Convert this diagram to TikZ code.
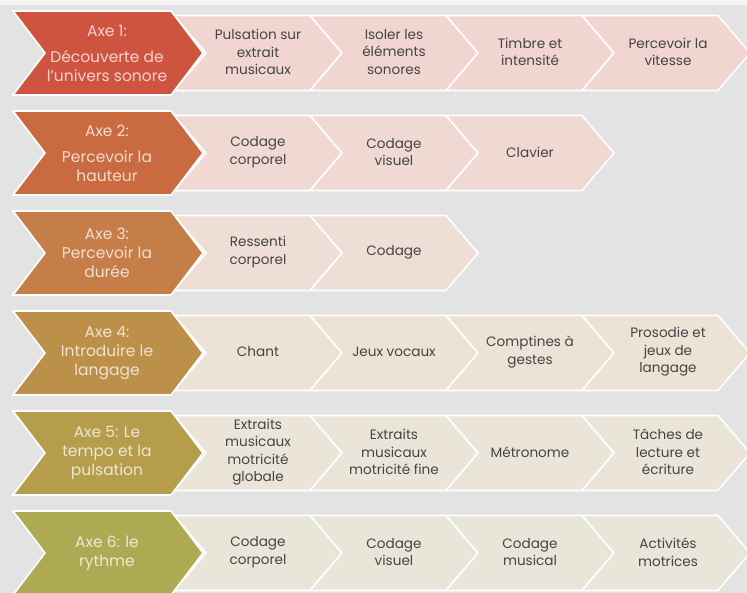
\documentclass[tikz,border=0pt]{standalone}
\usepackage{fontspec}
\setmainfont{Poppins}
\definecolor{bgtop}{HTML}{F4F4F4}
\definecolor{bg}{HTML}{E3E3E3}
\definecolor{mA}{HTML}{CF5440}
\definecolor{mB}{HTML}{CA6A40}
\definecolor{mC}{HTML}{C67E48}
\definecolor{mD}{HTML}{BC9048}
\definecolor{mE}{HTML}{B59D4C}
\definecolor{mF}{HTML}{ADAA53}
\definecolor{sA}{HTML}{F1D5D1}
\definecolor{sB}{HTML}{F0D9D3}
\definecolor{sC}{HTML}{EEDED6}
\definecolor{sD}{HTML}{ECE2D6}
\definecolor{sE}{HTML}{EBE5D9}
\definecolor{sF}{HTML}{E8E6D9}
\definecolor{tx}{HTML}{454545}
\tikzset{
  sectext/.style={align=center, text=tx, font=\fontsize{13.6}{17.5}\selectfont, inner sep=0pt},
  maintext/.style={align=center, font=\fontsize{15.5}{19}\selectfont, inner sep=0pt},
  chevline/.style={draw=white, line width=1.6pt, line join=miter},
}
% #1 left x, #2 centre y, #3 width, #4 half height, #5 fill
\newcommand\mychev[5]{%
  \path[chevline, fill=#5] (#1,{#2-#4}) -- ({#1+#3-32},{#2-#4}) -- ({#1+#3},#2)
    -- ({#1+#3-32},{#2+#4}) -- (#1,{#2+#4}) -- ({#1+32},#2) -- cycle;}
\begin{document}
\begin{tikzpicture}[x=1pt,y=-1pt]
\useasboundingbox (0,0) rectangle (747,593);
\clip (0,0) rectangle (747,593);
\fill[bgtop] (0,0) rectangle (747,593);
\fill[bg] (0,5) rectangle (747,593);

% Row 1
\mychev{174}{53}{168}{37.5}{sA}
\mychev{310}{53}{168}{37.5}{sA}
\mychev{446}{53}{168}{37.5}{sA}
\mychev{582}{53}{168}{37.5}{sA}
\mychev{13}{53}{190}{42}{mA}
% Row 2
\mychev{174}{153}{168}{37.5}{sB}
\mychev{310}{153}{168}{37.5}{sB}
\mychev{446}{153}{168}{37.5}{sB}
\mychev{13}{153}{190}{42}{mB}
% Row 3
\mychev{174}{253}{168}{37.5}{sC}
\mychev{310}{253}{168}{37.5}{sC}
\mychev{13}{253}{190}{42}{mC}
% Row 4
\mychev{174}{353}{168}{37.5}{sD}
\mychev{310}{353}{168}{37.5}{sD}
\mychev{446}{353}{168}{37.5}{sD}
\mychev{582}{353}{168}{37.5}{sD}
\mychev{13}{353}{190}{42}{mD}
% Row 5
\mychev{174}{453}{168}{37.5}{sE}
\mychev{310}{453}{168}{37.5}{sE}
\mychev{446}{453}{168}{37.5}{sE}
\mychev{582}{453}{168}{37.5}{sE}
\mychev{13}{453}{190}{42}{mE}
% Row 6
\mychev{174}{553}{168}{37.5}{sF}
\mychev{310}{553}{168}{37.5}{sF}
\mychev{446}{553}{168}{37.5}{sF}
\mychev{582}{553}{168}{37.5}{sF}
\mychev{13}{553}{190}{42}{mF}

% Main texts
\node[maintext, text=white!75!mA] (m1) at (107,53) {Axe 1:\\[7pt]Découverte de\\l’univers sonore};
\node[maintext, text=white!75!mB] (m2) at (107,153) {Axe 2:\\[7pt]Percevoir la\\hauteur};
\node[maintext, text=white!75!mC] (m3) at (107,253) {Axe 3:\\Percevoir la\\durée};
\node[maintext, text=white!75!mD] (m4) at (107,353) {Axe 4:\\Introduire le\\langage};
\node[maintext, text=white!75!mE] (m5) at (107,453) {Axe 5: Le\\tempo et la\\pulsation};
\node[maintext, text=white!75!mF] (m6) at (107,553) {Axe 6: le\\rythme};

% Row 1 texts
\node[sectext] (a1) at (258,52) {Pulsation sur\\extrait\\musicaux};
\node[sectext] (a2) at (394,52) {Isoler les\\éléments\\sonores};
\node[sectext] (a3) at (530,52) {Timbre et\\intensité};
\node[sectext] (a4) at (668,52) {Percevoir la\\vitesse};
% Row 2
\node[sectext] (b1) at (258,152) {Codage\\corporel};
\node[sectext] (b2) at (394,152) {Codage\\visuel};
\node[sectext] (b3) at (530,152) {Clavier};
% Row 3
\node[sectext] (c1) at (258,252) {Ressenti\\corporel};
\node[sectext] (c2) at (394,252) {Codage};
% Row 4
\node[sectext] (d1) at (258,352) {Chant};
\node[sectext] (d2) at (394,352) {Jeux vocaux};
\node[sectext] (d3) at (530,352) {Comptines à\\gestes};
\node[sectext] (d4) at (668,352) {Prosodie et\\jeux de\\langage};
% Row 5
\node[sectext] (e1) at (258,452) {Extraits\\musicaux\\motricité\\globale};
\node[sectext] (e2) at (394,452) {Extraits\\musicaux\\motricité fine};
\node[sectext] (e3) at (530,452) {Métronome};
\node[sectext] (e4) at (668,452) {Tâches de\\lecture et\\écriture};
% Row 6
\node[sectext] (f1) at (258,552) {Codage\\corporel};
\node[sectext] (f2) at (394,552) {Codage\\visuel};
\node[sectext] (f3) at (530,552) {Codage\\musical};
\node[sectext] (f4) at (668,552) {Activités\\motrices};
\end{tikzpicture}
\end{document}
